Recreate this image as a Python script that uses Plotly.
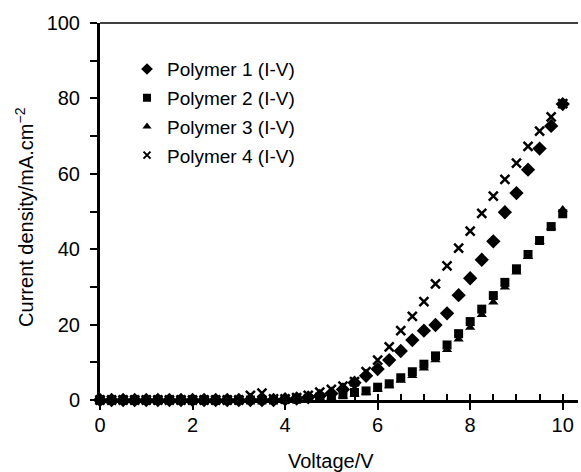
import plotly.graph_objects as go

voltage = [0.0, 0.25, 0.5, 0.75, 1.0, 1.25, 1.5, 1.75, 2.0, 2.25, 2.5, 2.75, 3.0, 3.25, 3.5, 3.75,
           4.0, 4.25, 4.5, 4.75, 5.0, 5.25, 5.5, 5.75, 6.0, 6.25, 6.5, 6.75, 7.0, 7.25, 7.5, 7.75,
           8.0, 8.25, 8.5, 8.75, 9.0, 9.25, 9.5, 9.75, 10.0]

polymer1 = [0, 0, 0, 0, 0, 0, 0, 0, 0, 0, 0, 0, 0, 0, 0, 0,
            0.2, 0.4, 0.7, 1.1, 1.7, 2.8, 4.6, 6.4, 8.2, 10.6, 13.0, 15.9, 18.4, 19.9, 23.0, 27.8,
            32.3, 37.2, 42.1, 49.8, 54.9, 61.1, 66.7, 72.7, 78.5]
polymer2 = [0, 0, 0, 0, 0, 0, 0, 0, 0, 0, 0, 0, 0, 0, 0, 0,
            0.1, 0.2, 0.4, 0.8, 1.0, 1.4, 2.0, 2.4, 3.4, 4.3, 5.9, 7.5, 9.5, 11.7, 14.6, 17.6,
            20.8, 24.1, 27.7, 31.2, 34.8, 38.6, 42.3, 46.0, 49.4]
polymer3 = [0, 0, 0, 0, 0, 0, 0, 0, 0, 0, 0, 0, 0, 0, 0, 0,
            0, 0.1, 0.2, 0.5, 0.7, 1.0, 1.5, 2.0, 2.7, 3.7, 5.2, 6.4, 8.4, 10.6, 13.3, 16.1,
            19.2, 22.6, 25.9, 29.9, 33.9, 38.0, 42.0, 45.8, 50.5]
polymer4 = [0, 0, 0, 0, 0, 0, 0, 0, 0, 0, 0, 0, 0, 1.2, 1.8, 0.3,
            0.3, 0.6, 1.2, 2.1, 2.8, 3.7, 4.9, 7.5, 10.6, 14.1, 18.4, 22.2, 26.1, 30.8, 35.6, 40.3,
            44.8, 49.5, 54.1, 58.5, 62.8, 67.3, 71.3, 75.1, 78.6]

names = ["Polymer 1 (I-V)", "Polymer 2 (I-V)", "Polymer 3 (I-V)", "Polymer 4 (I-V)"]
x_major = [0, 2, 4, 6, 8, 10]
y_major = [0, 20, 40, 60, 80, 100]

FONT = "Liberation Sans, Arial, sans-serif"

symbols = [
    dict(symbol="diamond", size=11, color="black"),
    dict(symbol="square", size=9, color="black"),
    dict(symbol="triangle-up", size=9, color="black"),
    dict(symbol="x-thin-open", size=9, color="black", line=dict(width=2.5, color="black")),
]
legend_symbols = [
    dict(symbol="diamond", size=9, color="black"),
    dict(symbol="square", size=8, color="black"),
    dict(symbol="triangle-up", size=8, color="black"),
    dict(symbol="x-thin-open", size=7, color="black", line=dict(width=2, color="black")),
]
values = [polymer1, polymer2, polymer3, polymer4]

fig = go.Figure()
for i in range(4):
    fig.add_trace(go.Scatter(x=voltage, y=values[i], mode="markers", name=names[i],
                             marker=symbols[i], cliponaxis=False, showlegend=False))
for i in range(4):
    fig.add_trace(go.Scatter(x=[None], y=[None], mode="markers", name=names[i],
                             marker=legend_symbols[i], legendgroup=f"g{i}", showlegend=True))

xr = [0, 10.33]
yr = [0, 100]
fig.update_layout(
    width=581, height=472,
    margin=dict(l=100, r=3, t=23, b=72),
    paper_bgcolor="white", plot_bgcolor="white",
    font=dict(family=FONT, size=20, color="black"),
    showlegend=True,
    legend=dict(x=0.0565, y=0.928, xanchor="left", yanchor="top",
                font=dict(family=FONT, size=19, color="black"),
                bgcolor="rgba(0,0,0,0)", tracegroupgap=1, itemwidth=30),
    xaxis=dict(range=xr, showgrid=False, zeroline=False,
               showline=True, linewidth=2.5, linecolor="black",
               tickmode="array", tickvals=x_major, ticks="outside", ticklen=7, tickwidth=2,
               tickcolor="black", ticklabelstandoff=-2,
               minor=dict(dtick=0.5, tick0=0, ticks="inside", ticklen=6, tickwidth=2,
                          tickcolor="black", showgrid=False),
               tickfont=dict(family=FONT, size=20)),
    yaxis=dict(range=yr, showgrid=False, zeroline=False,
               showline=True, linewidth=3, linecolor="black",
               tickmode="array", tickvals=y_major, ticks="outside", ticklen=7, tickwidth=2,
               tickcolor="black", ticklabelstandoff=6,
               minor=dict(dtick=10, tick0=0, ticks="outside", ticklen=7, tickwidth=2,
                          tickcolor="black", showgrid=False),
               tickfont=dict(family=FONT, size=20)),
    shapes=[dict(type="line", xref="paper", yref="paper", x0=0, x1=1, y0=1, y1=1,
                 line=dict(color="black", width=1.5))],
    annotations=[
        dict(text="Voltage/V", xref="paper", yref="paper", x=(331 - 100) / 478, y=-0.128,
             xanchor="center", yanchor="top", showarrow=False,
             font=dict(family=FONT, size=20, color="black")),
        dict(text="Current density/mA.cm<sup>\u22122</sup>", xref="paper", yref="paper",
             x=-0.158, y=0.487, xanchor="center", yanchor="middle", textangle=-90,
             showarrow=False, font=dict(family=FONT, size=20, color="black")),
    ],
)

fig.write_html("out.html")
